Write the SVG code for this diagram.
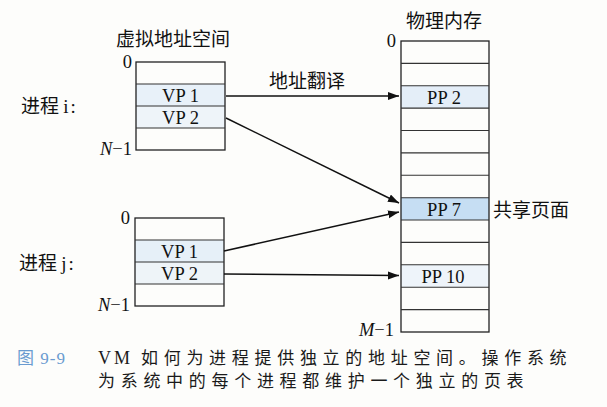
<svg xmlns="http://www.w3.org/2000/svg" width="607" height="407" viewBox="0 0 607 407">
<style>
.bg{fill:#fdfdfb}
.box{fill:none;stroke:#222;stroke-width:1.3}
.sep{stroke:#333;stroke-width:1.1}
.t{font-family:"Liberation Serif","Noto Sans CJK SC",serif;font-size:18.5px;fill:#111}
.c{font-family:"Noto Sans CJK SC","Liberation Serif",sans-serif;font-size:19px;fill:#111}
.mid{text-anchor:middle}
.end{text-anchor:end}
.cap{font-family:"Liberation Serif","Noto Sans CJK SC",serif;font-size:17px;fill:#1a1a1a;letter-spacing:5.7px}
.arrow{stroke:#111;stroke-width:1.5;fill:none;marker-end:url(#ah)}
</style>
<defs>
<marker id="ah" markerWidth="12" markerHeight="10" refX="11" refY="4" orient="auto" markerUnits="userSpaceOnUse">
<path d="M0,0 L11,4 L0,8 Z" fill="#111"/>
</marker>
</defs>
<rect class="bg" x="0" y="0" width="607" height="407"/>

<text class="c mid" x="173" y="46">虚拟地址空间</text>
<text class="c mid" x="444" y="28">物理内存</text>

<g id="vas_i">
<rect x="136" y="84" width="89" height="22" fill="#e8f1f9"/>
<rect x="136" y="106" width="89" height="22" fill="#eef4f9"/>
<rect class="box" x="136" y="62" width="89" height="88"/>
<line class="sep" x1="136" y1="84" x2="225" y2="84"/>
<line class="sep" x1="136" y1="106" x2="225" y2="106"/>
<line class="sep" x1="136" y1="128" x2="225" y2="128"/>
<text class="t mid" x="180.5" y="102">VP 1</text>
<text class="t mid" x="180.5" y="124">VP 2</text>
<text class="t end" x="132" y="68">0</text>
<text class="t end" x="132" y="155"><tspan font-style="italic">N</tspan>−1</text>
<text class="c" x="21" y="113">进程 <tspan font-family="Liberation Serif" letter-spacing="2">i:</tspan></text>
</g>

<g id="vas_j">
<rect x="135" y="240" width="89" height="22" fill="#e6f0f8"/>
<rect x="135" y="262" width="89" height="22" fill="#eef4f8"/>
<rect class="box" x="135" y="218" width="89" height="88"/>
<line class="sep" x1="135" y1="240" x2="224" y2="240"/>
<line class="sep" x1="135" y1="262" x2="224" y2="262"/>
<line class="sep" x1="135" y1="284" x2="224" y2="284"/>
<text class="t mid" x="179.5" y="258">VP 1</text>
<text class="t mid" x="179.5" y="280">VP 2</text>
<text class="t end" x="130" y="224">0</text>
<text class="t end" x="130" y="311"><tspan font-style="italic">N</tspan>−1</text>
<text class="c" x="19" y="270">进程 <tspan font-family="Liberation Serif" letter-spacing="2">j:</tspan></text>
</g>

<g id="phys">
<rect x="401" y="85.8" width="88" height="22.3" fill="#e4eef8"/>
<rect x="401" y="197.7" width="88" height="22.3" fill="#c6def3"/>
<rect x="401" y="264.8" width="88" height="22.4" fill="#eef4fa"/>
<rect class="box" x="401" y="41" width="88" height="291"/>
<line class="sep" x1="401" y1="63.4" x2="489" y2="63.4"/>
<line class="sep" x1="401" y1="85.8" x2="489" y2="85.8"/>
<line class="sep" x1="401" y1="108.1" x2="489" y2="108.1"/>
<line class="sep" x1="401" y1="130.5" x2="489" y2="130.5"/>
<line class="sep" x1="401" y1="152.9" x2="489" y2="152.9"/>
<line class="sep" x1="401" y1="175.3" x2="489" y2="175.3"/>
<line class="sep" x1="401" y1="197.7" x2="489" y2="197.7"/>
<line class="sep" x1="401" y1="220" x2="489" y2="220"/>
<line class="sep" x1="401" y1="242.4" x2="489" y2="242.4"/>
<line class="sep" x1="401" y1="264.8" x2="489" y2="264.8"/>
<line class="sep" x1="401" y1="287.2" x2="489" y2="287.2"/>
<line class="sep" x1="401" y1="309.6" x2="489" y2="309.6"/>
<text class="t mid" x="444" y="103.5">PP 2</text>
<text class="t mid" x="444" y="215.5">PP 7</text>
<text class="t mid" x="443" y="282.5">PP 10</text>
<text class="t end" x="396" y="47">0</text>
<text class="t end" x="394" y="336"><tspan font-style="italic">M</tspan>−1</text>
<text class="c" x="493" y="217">共享页面</text>
</g>

<g id="connectors">
<line class="arrow" x1="226" y1="96" x2="399" y2="96"/>
<line class="arrow" x1="226" y1="118" x2="399" y2="203"/>
<line class="arrow" x1="224" y1="251" x2="399" y2="212"/>
<line class="arrow" x1="224" y1="274" x2="399" y2="275.5"/>
<text class="c" x="269" y="88">地址翻译</text>
</g>

<g id="caption">
<text x="17" y="364" font-family="Liberation Serif,'Noto Sans CJK SC',serif" font-size="17" fill="#6a9bd0" letter-spacing="1">图 9-9</text>
<text class="cap" x="98" y="364"><tspan font-size="18" letter-spacing="3">VM</tspan><tspan x="141">如何为进程提供独立的地址空间。操作系统</tspan></text>
<text class="cap" x="98" y="387">为系统中的每个进程都维护一个独立的页表</text>
</g>
</svg>
